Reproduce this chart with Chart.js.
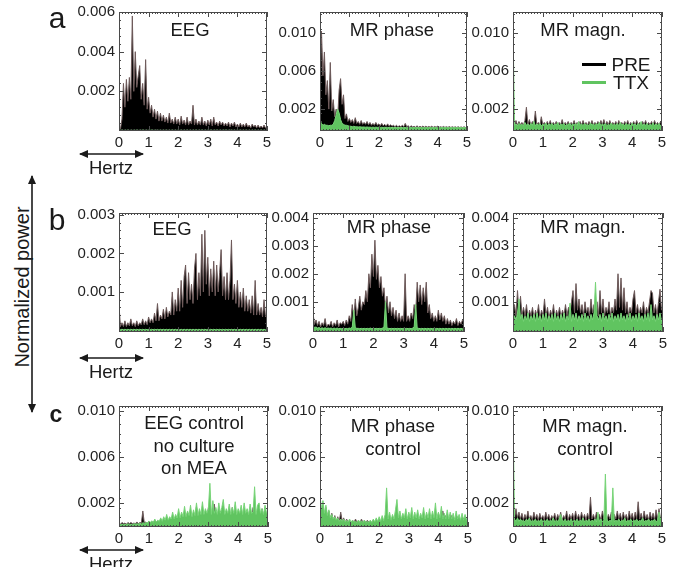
<!DOCTYPE html>
<html><head><meta charset="utf-8">
<script src="https://cdn.jsdelivr.net/npm/chart.js@4.4.1/dist/chart.umd.min.js"></script>
<style>
html,body{margin:0;padding:0;background:#fff;}
body{width:679px;height:567px;overflow:hidden;position:relative;font-family:"Liberation Sans",Arial,sans-serif;color:#1a1a1a;}
canvas{position:absolute;}
.t{position:absolute;transform:translate(-50%,-50%);white-space:nowrap;line-height:1;}
svg{position:absolute;left:0;top:0;}
</style></head><body>
<svg width="679" height="567">
<defs><marker id="ah" markerUnits="userSpaceOnUse" markerWidth="9" markerHeight="8" refX="8" refY="4" orient="auto-start-reverse"><path d="M0,0 L9,4 L0,8 z" fill="#1a1a1a"/></marker></defs>
<line x1="80" y1="154" x2="143" y2="154" stroke="#1a1a1a" stroke-width="1.6" marker-start="url(#ah)" marker-end="url(#ah)"/>
<line x1="80" y1="358" x2="143" y2="358" stroke="#1a1a1a" stroke-width="1.6" marker-start="url(#ah)" marker-end="url(#ah)"/>
<line x1="80" y1="550" x2="143" y2="550" stroke="#1a1a1a" stroke-width="1.6" marker-start="url(#ah)" marker-end="url(#ah)"/>
<line x1="32" y1="176" x2="32" y2="412" stroke="#1a1a1a" stroke-width="1.6" marker-start="url(#ah)" marker-end="url(#ah)"/>
</svg>
<script>
// ---------- data (power values in units of 1e-3) ----------
const UNIT = 1e-3;
const SERIES = ['PRE', 'TTX'];
const X_TICKS = [0, 1, 2, 3, 4, 5];
const Y_TICKS_A_EEG = [0.002, 0.004, 0.006];
const Y_TICKS_A_MR = [0.002, 0.006, 0.010];
const Y_TICKS_B_EEG = [0.001, 0.002, 0.003];
const Y_TICKS_B_MR = [0.001, 0.002, 0.003, 0.004];
const Y_TICKS_C = [0.002, 0.006, 0.010];
const FREQ = [0,0.05,0.1,0.15,0.2,0.25,0.3,0.35,0.4,0.45,
 0.5,0.55,0.6,0.65,0.7,0.75,0.8,0.85,0.9,0.95,
 1,1.05,1.1,1.15,1.2,1.25,1.3,1.35,1.4,1.45,
 1.5,1.55,1.6,1.65,1.7,1.75,1.8,1.85,1.9,1.95,
 2,2.05,2.1,2.15,2.2,2.25,2.3,2.35,2.4,2.45,
 2.5,2.55,2.6,2.65,2.7,2.75,2.8,2.85,2.9,2.95,
 3,3.05,3.1,3.15,3.2,3.25,3.3,3.35,3.4,3.45,
 3.5,3.55,3.6,3.65,3.7,3.75,3.8,3.85,3.9,3.95,
 4,4.05,4.1,4.15,4.2,4.25,4.3,4.35,4.4,4.45,
 4.5,4.55,4.6,4.65,4.7,4.75,4.8,4.85,4.9,4.95,5];

const PRE_A_EEG = [0.05,0.1,0.6,2.4,1.2,2.6,1.5,2.7,1.6,5.8,
 2.0,4.0,2.2,2.8,3.3,1.6,2.4,1.3,3.6,1.1,
 1.7,0.9,1.3,0.7,1.1,0.6,1.0,0.5,0.9,0.5,
 0.8,0.45,0.7,0.4,0.9,0.4,0.6,0.35,0.7,0.35,
 0.6,0.3,0.75,0.35,0.55,0.3,0.7,0.3,0.5,0.35,
 1.3,0.3,0.6,0.3,0.5,0.3,0.7,0.3,0.5,0.25,
 0.55,0.3,0.6,0.25,0.7,0.3,0.45,0.25,0.5,0.3,
 0.45,0.25,0.4,0.25,0.45,0.2,0.4,0.25,0.45,0.2,
 0.35,0.2,0.4,0.2,0.35,0.2,0.4,0.2,0.3,0.15,
 0.35,0.2,0.3,0.15,0.3,0.15,0.25,0.15,0.3,0.15,0.2];
const TTX_A_EEG = [0.04,0.03,0.05,0.03,0.04,0.03,0.05,0.03,0.04,0.03,
 0.04,0.03,0.05,0.03,0.04,0.03,0.05,0.03,0.04,0.03,
 0.04,0.03,0.05,0.03,0.04,0.03,0.05,0.03,0.04,0.03,
 0.04,0.03,0.05,0.03,0.04,0.03,0.05,0.03,0.04,0.03,
 0.04,0.03,0.05,0.03,0.04,0.03,0.05,0.03,0.04,0.03,
 0.04,0.03,0.05,0.03,0.04,0.03,0.05,0.03,0.04,0.03,
 0.04,0.03,0.05,0.03,0.04,0.03,0.05,0.03,0.04,0.03,
 0.04,0.03,0.05,0.03,0.04,0.03,0.05,0.03,0.04,0.03,
 0.04,0.03,0.05,0.03,0.04,0.03,0.05,0.03,0.04,0.03,
 0.04,0.03,0.05,0.03,0.04,0.03,0.05,0.03,0.04,0.03,0.03];

const PRE_A_PH = [3.0,10.2,5.5,8.0,3.5,5.0,2.0,6.9,1.8,3.0,
 1.2,2.0,1.0,4.0,5.2,2.5,3.5,1.0,1.5,0.7,
 1.0,0.6,0.9,0.5,1.1,0.5,0.7,0.4,0.8,0.4,
 0.6,0.4,0.7,0.35,0.6,0.3,0.5,0.3,0.6,0.3,
 0.45,0.25,0.5,0.25,0.4,0.2,0.45,0.2,0.35,0.2,
 0.3,0.15,0.3,0.15,0.25,0.15,0.3,0.15,0.5,0.15,
 0.25,0.1,0.25,0.12,0.2,0.1,0.25,0.1,0.2,0.1,
 0.22,0.1,0.2,0.1,0.18,0.1,0.2,0.08,0.18,0.1,
 0.2,0.08,0.15,0.08,0.18,0.08,0.15,0.08,0.16,0.07,
 0.15,0.08,0.14,0.07,0.15,0.07,0.13,0.07,0.14,0.07,0.12];
const TTX_A_PH = [0.8,0.5,0.3,0.4,0.3,0.3,0.25,0.3,0.3,0.4,
 0.8,1.4,2.0,1.6,0.9,0.5,0.4,0.3,0.3,0.25,
 0.2,0.2,0.15,0.2,0.15,0.15,0.12,0.15,0.12,0.12,
 0.12,0.1,0.12,0.1,0.1,0.08,0.1,0.08,0.1,0.08,
 0.1,0.08,0.09,0.07,0.09,0.07,0.08,0.07,0.08,0.06,
 0.08,0.06,0.08,0.06,0.07,0.06,0.07,0.05,0.07,0.05,
 0.06,0.05,0.06,0.05,0.06,0.05,0.06,0.05,0.06,0.05,
 0.06,0.05,0.06,0.05,0.06,0.05,0.06,0.05,0.06,0.05,
 0.06,0.05,0.06,0.05,0.06,0.05,0.06,0.05,0.06,0.05,
 0.06,0.05,0.06,0.05,0.06,0.05,0.06,0.05,0.06,0.05,0.05];

const PRE_A_MG = [0.6,0.3,0.8,0.3,0.7,0.35,0.6,0.3,0.8,2.2,
 0.35,0.9,0.3,0.7,0.35,1.8,0.35,0.6,0.3,1.2,
 0.35,0.6,0.3,0.7,0.35,0.8,0.3,0.6,0.35,0.7,
 0.3,0.6,0.35,0.9,0.3,0.6,0.35,0.7,0.3,0.6,
 0.35,0.8,0.3,0.6,0.35,0.7,0.3,0.8,0.35,0.6,
 0.3,0.7,0.35,0.8,0.3,0.6,0.35,0.7,0.3,0.8,
 0.35,0.9,0.3,0.7,0.35,0.8,0.3,0.6,0.35,0.7,
 0.3,0.8,0.35,0.6,0.3,0.7,0.35,0.8,0.3,0.6,
 0.35,0.7,0.3,0.8,0.35,0.6,0.3,0.7,0.35,0.8,
 0.3,0.6,0.35,0.7,0.3,0.8,0.35,0.6,0.3,0.7,0.5];
const TTX_A_MG = [11.0,0.3,0.45,0.25,0.5,0.3,0.4,0.25,0.6,0.3,
 0.45,0.25,0.5,0.3,0.7,0.25,0.45,0.3,0.5,0.25,
 0.4,0.3,0.55,0.25,0.45,0.3,0.5,0.25,0.45,0.3,
 0.6,0.25,0.45,0.3,0.5,0.25,0.4,0.3,0.55,0.25,
 0.45,0.3,0.5,0.25,0.7,0.3,0.45,0.25,0.5,0.3,
 0.4,0.25,0.55,0.3,0.45,0.25,0.5,0.3,0.6,0.25,
 0.45,0.3,0.5,0.25,0.4,0.3,0.55,0.25,0.45,0.3,
 0.5,0.25,0.6,0.3,0.45,0.25,0.5,0.3,0.4,0.25,
 0.55,0.3,0.45,0.25,0.5,0.3,0.7,0.25,0.45,0.3,
 0.5,0.25,0.4,0.3,0.55,0.25,0.45,0.3,0.5,0.25,0.4];

const PRE_B_EEG = [0.65,0.1,0.2,0.1,0.25,0.1,0.2,0.12,0.3,0.12,
 0.2,0.1,0.25,0.12,0.2,0.15,0.3,0.15,0.25,0.15,
 0.35,0.2,0.3,0.2,0.45,0.25,0.7,0.25,0.4,0.3,
 0.55,0.3,0.6,0.35,0.5,0.4,1.0,0.4,0.8,0.5,
 1.1,0.5,1.3,0.6,1.4,1.7,0.7,1.5,0.8,1.2,
 0.7,1.6,2.0,0.8,1.5,0.9,2.5,1.0,2.6,1.2,
 1.9,0.9,1.6,1.0,1.8,0.9,1.7,1.0,1.5,2.1,
 0.9,1.4,0.8,1.5,0.8,1.3,2.35,0.8,1.2,0.7,
 1.3,0.6,1.0,0.6,1.1,0.5,0.9,0.5,0.8,0.45,
 0.9,0.4,1.3,0.4,0.7,0.4,0.6,0.35,0.8,0.35,0.5];
const TTX_B_EEG = [0.03,0.02,0.03,0.02,0.03,0.02,0.03,0.02,0.03,0.02,
 0.03,0.02,0.03,0.02,0.03,0.02,0.03,0.02,0.03,0.02,
 0.03,0.02,0.03,0.02,0.03,0.02,0.03,0.02,0.03,0.02,
 0.03,0.02,0.03,0.02,0.03,0.02,0.03,0.02,0.03,0.02,
 0.03,0.02,0.03,0.02,0.03,0.02,0.03,0.02,0.03,0.02,
 0.03,0.02,0.03,0.02,0.03,0.02,0.03,0.02,0.03,0.02,
 0.03,0.02,0.03,0.02,0.03,0.02,0.03,0.02,0.03,0.02,
 0.03,0.02,0.03,0.02,0.03,0.02,0.03,0.02,0.03,0.02,
 0.03,0.02,0.03,0.02,0.03,0.02,0.03,0.02,0.03,0.02,
 0.03,0.02,0.03,0.02,0.03,0.02,0.03,0.02,0.03,0.02,0.02];

const PRE_B_PH = [0.6,0.2,0.35,0.15,0.3,0.1,0.25,0.15,0.4,0.1,
 0.2,0.15,0.3,0.1,0.25,0.15,0.35,0.1,0.25,0.2,
 0.3,0.15,0.35,0.2,0.5,0.3,0.9,0.4,1.1,0.5,
 0.8,1.2,0.7,1.0,0.9,1.4,1.0,2.0,1.5,2.7,
 1.9,3.2,1.8,2.3,1.5,1.9,1.2,1.5,0.8,1.2,
 0.6,1.0,0.5,0.8,0.4,0.7,0.3,0.6,0.3,0.5,
 0.3,2.0,0.3,0.5,0.3,0.6,0.4,0.9,0.6,1.7,
 1.0,1.6,0.9,1.5,1.0,1.7,0.6,0.9,0.4,0.6,
 0.3,0.5,0.3,0.7,0.35,0.6,0.3,0.5,0.2,0.4,
 0.2,0.35,0.15,0.3,0.2,0.4,0.15,0.3,0.2,0.35,0.3];
const TTX_B_PH = [0.15,0.08,0.1,0.06,0.08,0.05,0.07,0.05,0.07,0.05,
 0.06,0.05,0.06,0.04,0.06,0.04,0.06,0.04,0.05,0.04,
 0.05,0.04,0.05,0.04,0.06,0.05,0.1,0.7,0.08,0.05,
 0.05,0.04,0.05,0.04,0.05,0.04,0.05,0.04,0.06,0.04,
 0.05,0.04,0.05,0.04,0.05,0.04,0.06,0.1,1.0,0.06,
 0.05,0.04,0.05,0.04,0.05,0.04,0.05,0.04,0.05,0.04,
 0.05,0.04,0.05,0.04,0.05,0.04,0.06,0.1,0.9,0.06,
 0.05,0.04,0.05,0.04,0.05,0.04,0.05,0.04,0.05,0.04,
 0.05,0.04,0.05,0.04,0.05,0.04,0.05,0.04,0.05,0.04,
 0.05,0.04,0.05,0.04,0.05,0.04,0.05,0.04,0.05,0.04,0.05];

const PRE_B_MG = [0.5,0.9,0.5,1.4,0.6,1.2,0.5,0.8,0.5,0.9,
 0.4,0.7,0.5,0.8,0.4,0.7,0.5,0.9,0.4,0.7,
 0.5,1.1,0.5,0.8,0.4,0.7,0.5,0.9,0.4,0.7,
 0.5,0.8,0.45,0.7,0.5,0.9,0.5,0.8,0.6,1.0,
 1.4,0.6,1.65,0.7,1.1,0.6,0.9,0.5,1.0,0.6,
 0.8,0.5,1.1,0.6,0.9,0.7,1.0,0.5,1.4,0.6,
 1.1,0.5,0.8,0.6,1.0,0.5,0.8,0.6,1.1,0.7,
 2.0,0.8,1.85,0.7,1.5,0.6,1.0,0.5,0.8,0.6,
 1.1,1.4,0.6,0.9,0.5,0.8,0.6,1.0,0.5,0.8,
 0.6,1.0,1.4,1.3,0.6,0.9,0.5,1.0,1.45,0.7,0.9];
const TTX_B_MG = [0.3,0.5,0.35,0.6,1.1,0.4,0.55,0.3,0.5,0.35,
 0.6,0.3,0.5,0.35,0.55,0.3,0.6,0.35,0.5,0.3,
 0.55,0.35,0.6,0.3,0.5,0.35,0.55,0.3,0.6,0.35,
 0.5,0.3,0.55,0.35,0.6,0.3,0.5,0.35,0.95,0.3,
 0.55,0.35,0.6,0.3,0.5,0.35,0.55,0.3,0.6,0.35,
 0.5,0.3,0.55,0.35,0.6,1.7,0.5,0.35,0.55,0.3,
 0.6,0.35,0.5,0.3,0.55,0.35,0.6,0.3,0.5,0.35,
 0.55,0.3,0.6,0.35,0.5,0.3,0.55,0.35,0.6,0.3,
 0.5,0.35,0.55,0.3,0.6,0.35,0.5,0.3,0.55,0.35,
 0.6,0.3,0.9,0.35,0.5,0.3,0.55,0.35,0.6,0.3,0.5];

const PRE_C_EEG = [0.2,0.15,0.3,0.2,0.25,0.15,0.3,0.2,0.3,0.2,
 0.25,0.2,0.35,0.2,0.3,0.25,1.3,0.25,0.35,0.2,
 0.4,0.25,0.35,0.3,0.5,0.3,0.45,0.3,0.6,0.35,
 0.5,0.3,0.7,0.4,0.6,0.35,0.8,0.45,0.7,0.4,
 0.9,0.5,0.8,0.5,1.0,0.5,1.2,0.6,0.9,0.5,
 1.1,0.6,1.7,0.6,1.0,0.7,1.3,0.6,1.0,0.7,
 1.6,0.7,1.2,0.6,1.9,0.7,1.1,0.6,1.3,0.7,
 1.4,0.6,1.0,0.7,1.2,0.6,1.6,0.7,1.1,0.6,
 1.3,0.7,1.0,0.6,1.5,0.7,1.1,0.6,1.3,0.7,
 1.6,0.7,1.1,0.6,1.4,0.7,1.5,0.8,1.0,0.6,1.2];
const TTX_C_EEG = [0.2,0.1,0.15,0.1,0.15,0.1,0.2,0.1,0.15,0.1,
 0.2,0.15,0.2,0.15,0.25,0.15,0.3,0.2,0.3,0.25,
 0.4,0.3,0.45,0.3,0.6,0.35,0.5,0.4,0.7,0.4,
 0.8,0.5,1.0,0.5,0.8,0.6,1.2,0.6,1.0,0.7,
 1.5,0.7,1.2,0.8,1.7,0.8,1.3,0.9,1.8,0.8,
 1.4,0.9,2.0,0.9,1.5,1.0,2.1,1.0,1.5,1.1,
 1.5,3.7,1.0,2.2,1.1,1.6,1.0,2.0,1.1,1.6,
 2.3,1.0,1.5,1.1,1.9,1.0,1.6,1.1,2.1,1.0,
 1.5,1.1,1.8,1.0,2.0,1.1,1.5,1.0,1.9,1.1,
 1.2,3.4,1.0,1.8,2.0,1.1,1.5,1.0,1.8,1.1,1.4];

const PRE_C_PH = [2.0,1.2,1.8,0.9,1.6,0.8,1.3,0.6,1.1,0.5,
 0.9,0.4,0.8,0.4,1.2,0.4,0.7,0.3,0.6,0.3,
 0.5,0.25,0.5,0.3,0.6,0.3,0.5,0.25,0.6,0.3,
 0.5,0.25,0.5,0.3,0.45,0.25,0.5,0.3,0.5,0.3,
 0.6,0.3,0.5,0.3,0.7,0.35,0.6,0.3,0.7,0.35,
 0.6,0.3,0.8,0.4,0.6,0.3,0.9,0.4,0.6,0.3,
 0.7,0.4,0.6,0.3,0.8,0.4,0.6,0.35,0.7,0.4,
 0.9,0.4,0.7,0.3,0.8,0.4,1.0,0.45,0.7,0.4,
 1.1,0.5,0.8,1.3,0.5,0.9,0.4,0.7,0.4,0.9,
 0.4,0.7,0.35,0.8,0.4,0.6,0.35,0.7,0.4,0.6,0.5];
const TTX_C_PH = [2.6,1.5,2.2,1.1,1.8,0.9,1.4,0.7,1.0,0.6,
 0.8,0.5,0.7,0.4,0.6,0.4,0.6,0.35,0.5,0.35,
 0.6,0.3,0.5,0.35,0.4,0.3,0.5,0.3,0.45,0.3,
 0.5,0.3,0.4,0.3,0.5,0.3,0.6,0.35,0.7,0.4,
 0.8,0.4,0.9,0.45,1.0,3.3,0.6,1.2,0.5,1.0,
 0.6,1.4,2.3,0.7,1.3,0.6,1.1,0.7,1.5,0.6,
 1.2,0.7,1.6,0.6,1.2,0.7,1.4,0.6,1.1,0.7,
 1.6,0.6,1.2,0.7,1.5,0.6,1.3,0.7,2.0,0.6,
 1.2,0.7,1.7,0.6,1.1,0.6,1.4,0.6,1.2,0.6,
 1.1,0.5,1.3,0.6,1.0,0.5,1.1,0.5,1.0,0.5,0.8];

const PRE_C_MG = [1.2,0.6,1.5,0.7,1.2,0.6,1.1,0.5,1.0,0.6,
 1.3,0.6,0.9,0.5,1.2,0.6,1.0,0.5,1.1,0.6,
 0.9,0.5,1.2,0.6,1.0,0.5,0.9,0.6,1.1,0.5,
 1.0,0.6,1.2,0.5,0.9,0.6,1.3,0.5,1.0,0.6,
 1.1,0.5,1.3,0.6,1.0,0.5,1.2,0.6,1.0,0.5,
 1.1,0.6,2.5,0.6,1.0,0.5,1.2,0.6,1.0,0.5,
 1.3,0.6,1.1,0.5,1.0,0.6,1.2,0.5,1.0,0.6,
 1.3,0.6,1.1,0.5,1.2,0.6,1.0,0.5,1.3,0.6,
 1.1,0.5,1.2,0.6,2.1,0.6,1.1,0.5,1.3,0.6,
 1.0,0.5,1.2,0.6,1.1,0.5,1.4,0.6,1.5,0.6,1.1];
const TTX_C_MG = [10.0,0.6,0.4,0.7,0.4,0.6,0.4,0.5,0.35,0.6,
 0.4,0.7,0.35,0.5,0.4,0.6,0.35,0.5,0.4,0.6,
 0.35,0.5,0.4,0.6,0.35,0.5,0.4,0.7,0.35,0.5,
 0.4,0.6,1.0,0.5,0.4,0.6,0.35,0.5,0.4,0.6,
 0.35,0.5,0.4,0.6,0.35,0.5,0.4,0.7,0.35,0.5,
 0.4,0.6,0.35,0.5,0.4,0.6,0.35,1.2,0.4,0.6,
 0.35,0.5,4.5,0.6,0.35,0.5,0.4,3.3,0.35,0.5,
 0.4,0.6,0.35,0.5,0.4,0.7,0.35,0.5,0.4,0.6,
 0.35,0.5,0.4,0.6,0.35,0.5,0.4,0.7,0.35,0.5,
 0.4,0.6,0.35,0.5,0.4,0.6,0.35,0.5,1.2,0.6,0.5];

// ---------- layout ----------
const FONT = '"Liberation Sans", Arial, sans-serif';
const PADL = 62, PADT = 14, PADR = 14, PADB = 30;
const panels = [
  {box:[119,12,267,131], yMin:0, yMax:0.006, yTicks:Y_TICKS_A_EEG, pre:PRE_A_EEG, ttx:TTX_A_EEG, minorY:0.0004},
  {box:[320,12,467,131], yMin:-0.0003, yMax:0.0122, yTicks:Y_TICKS_A_MR, pre:PRE_A_PH, ttx:TTX_A_PH, minorY:0.0008},
  {box:[513,12,662,131], yMin:-0.0003, yMax:0.0122, yTicks:Y_TICKS_A_MR, pre:PRE_A_MG, ttx:TTX_A_MG, minorY:0.0008},
  {box:[119,213,267,332], yMin:-0.00004, yMax:0.00305, yTicks:Y_TICKS_B_EEG, pre:PRE_B_EEG, ttx:TTX_B_EEG, minorY:0.0002},
  {box:[313,213,464,332], yMin:-0.00008, yMax:0.00417, yTicks:Y_TICKS_B_MR, pre:PRE_B_PH, ttx:TTX_B_PH, minorY:0.0002},
  {box:[513,213,663,332], yMin:-0.00008, yMax:0.00417, yTicks:Y_TICKS_B_MR, pre:PRE_B_MG, ttx:TTX_B_MG, minorY:0.0002},
  {box:[119,406,268,527], yMin:-0.00009, yMax:0.0104, yTicks:Y_TICKS_C, pre:PRE_C_EEG, ttx:TTX_C_EEG, minorY:0.0008},
  {box:[320,406,468,527], yMin:-0.00009, yMax:0.0104, yTicks:Y_TICKS_C, pre:PRE_C_PH, ttx:TTX_C_PH, minorY:0.0008},
  {box:[513,406,662,527], yMin:-0.00009, yMax:0.0104, yTicks:Y_TICKS_C, pre:PRE_C_MG, ttx:TTX_C_MG, minorY:0.0008}
];

const boxPlugin = {
  id: 'frame',
  afterDatasetsDraw(chart, args, opts) {
    const {ctx, chartArea: a, scales: {x, y}} = chart;
    ctx.save();
    ctx.strokeStyle = '#4a4a4a';
    ctx.lineWidth = 1;
    ctx.strokeRect(a.left + 0.5, a.top + 0.5, a.right - a.left - 1, a.bottom - a.top - 1);
    ctx.beginPath();
    for (let v = 0; v <= 5.0001; v += 0.1) {
      const px = Math.round(x.getPixelForValue(v)) + 0.5;
      const major = Math.abs(v - Math.round(v)) < 1e-6;
      const len = major ? 5 : 2;
      ctx.moveTo(px, a.bottom); ctx.lineTo(px, a.bottom - len);
      ctx.moveTo(px, a.top); ctx.lineTo(px, a.top + len);
    }
    const st = opts.minorY;
    for (let v = st; v < y.max; v += st) {
      const py = Math.round(y.getPixelForValue(v)) + 0.5;
      ctx.moveTo(a.left, py); ctx.lineTo(a.left + 2, py);
      ctx.moveTo(a.right, py); ctx.lineTo(a.right - 2, py);
    }
    y.ticks.forEach(t => {
      const py = Math.round(y.getPixelForValue(t.value)) + 0.5;
      ctx.moveTo(a.left, py); ctx.lineTo(a.left + 5, py);
      ctx.moveTo(a.right, py); ctx.lineTo(a.right - 5, py);
    });
    ctx.stroke();
    ctx.restore();
  }
};

panels.forEach(p => {
  const [l, t, r, b] = p.box;
  const w = r - l + PADL + PADR, h = b - t + PADT + PADB;
  const c = document.createElement('canvas');
  c.width = w; c.height = h;
  c.style.left = (l - PADL) + 'px'; c.style.top = (t - PADT) + 'px';
  c.style.width = w + 'px'; c.style.height = h + 'px';
  document.body.appendChild(c);
  new Chart(c, {
    type: 'line',
    data: {datasets: [
      {label: SERIES[1], data: FREQ.map((f, i) => ({x: f, y: p.ttx[i] * UNIT})),
       borderColor: 'rgba(120,212,120,1)', backgroundColor: 'rgba(96,196,96,1)', fill: 'start', order: 0},
      {label: SERIES[0], data: FREQ.map((f, i) => ({x: f, y: p.pre[i] * UNIT})),
       borderColor: 'rgba(110,90,90,1)', backgroundColor: '#000', fill: 'start', order: 1}
    ]},
    options: {
      responsive: false, animation: false, devicePixelRatio: 1,
      layout: {padding: {left: 0, top: PADT, right: PADR, bottom: 0}},
      elements: {point: {radius: 0}, line: {tension: 0, borderWidth: 1}},
      plugins: {legend: {display: false}, tooltip: {enabled: false}, frame: {minorY: p.minorY}},
      scales: {
        x: {type: 'linear', min: 0, max: 5,
            afterBuildTicks: s => { s.ticks = X_TICKS.map(v => ({value: v})); },
            afterFit: s => { s.height = PADB; },
            grid: {display: false, drawTicks: false}, border: {display: false},
            ticks: {autoSkip: false, maxRotation: 0, padding: 3, color: '#222', font: {family: FONT, size: 15}, callback: v => String(v)}},
        y: {type: 'linear', min: p.yMin, max: p.yMax,
            afterBuildTicks: s => { s.ticks = p.yTicks.map(v => ({value: v})); },
            afterFit: s => { s.width = PADL; },
            grid: {display: false, drawTicks: false}, border: {display: false},
            ticks: {autoSkip: false, padding: 4, color: '#222', font: {family: FONT, size: 15}, callback: v => v.toFixed(3)}}
      }
    },
    plugins: [boxPlugin]
  });
});

// ---------- texts ----------
function txt(s, x, y, size, extra) {
  const d = document.createElement('div');
  d.className = 't';
  d.textContent = s;
  d.style.left = x + 'px'; d.style.top = y + 'px';
  d.style.fontSize = size + 'px';
  if (extra) Object.assign(d.style, extra);
  document.body.appendChild(d);
  return d;
}
txt('a', 57, 18, 30);
txt('b', 57, 220, 30);
txt('c', 56, 414, 23, {fontWeight: 'bold'});
txt('EEG', 190, 30, 18.5);
txt('MR phase', 392, 30, 18.5);
txt('MR magn.', 583, 30, 18.5);
txt('EEG', 172, 229, 18.5);
txt('MR phase', 389, 227, 18.5);
txt('MR magn.', 583, 227, 18.5);
txt('EEG control', 194, 423, 18.5);
txt('no culture', 194, 446, 18.5);
txt('on MEA', 194, 468, 18.5);
txt('MR phase', 393, 426, 18.5);
txt('control', 393, 449, 18.5);
txt('MR magn.', 585, 426, 18.5);
txt('control', 585, 449, 18.5);
txt('Hertz', 111, 168, 18.5);
txt('Hertz', 111, 372, 18.5);
txt('Hertz', 111, 564, 18.5);
txt('Normalized power', 22, 287, 20, {transform: 'translate(-50%,-50%) rotate(-90deg)'});
// legend
const LEG_COLORS = ['#000', 'rgb(96,196,96)'];
SERIES.forEach((s, i) => {
  const y = 64 + i * 18;
  const ln = document.createElement('div');
  Object.assign(ln.style, {position: 'absolute', left: '582px', top: (y - 1) + 'px', width: '24px', height: '3px', background: LEG_COLORS[i]});
  document.body.appendChild(ln);
  txt(s, 631, y, 19);
});
</script>
</body></html>
